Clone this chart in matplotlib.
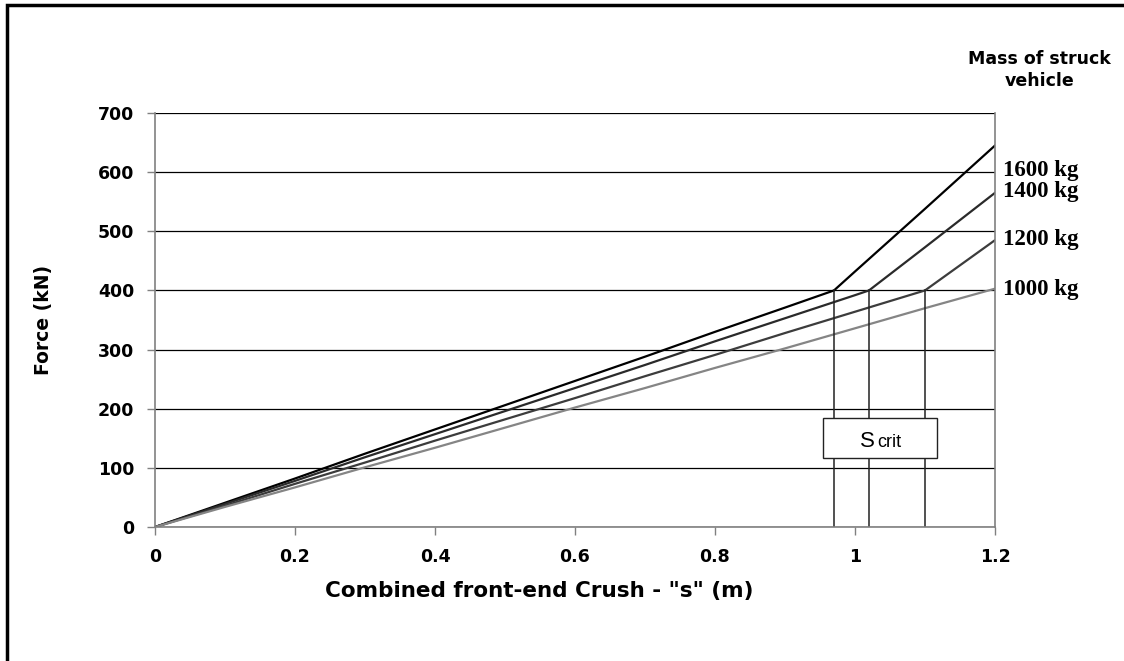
import matplotlib.pyplot as plt
from matplotlib.patches import Rectangle

# crush (m) and force (kN) for each struck vehicle mass
s_1600 = [0, 0.1, 0.2, 0.3, 0.4, 0.5, 0.6, 0.7, 0.8, 0.9, 0.97, 1.0, 1.1, 1.2]
f_1600 = [0, 41, 82, 124, 165, 206, 247, 288, 330, 371, 400, 432, 538, 645]
s_1400 = [0, 0.1, 0.2, 0.3, 0.4, 0.5, 0.6, 0.7, 0.8, 0.9, 1.0, 1.02, 1.1, 1.2]
f_1400 = [0, 39, 78, 118, 157, 196, 235, 274, 314, 353, 392, 400, 473, 565]
s_1200 = [0, 0.1, 0.2, 0.3, 0.4, 0.5, 0.6, 0.7, 0.8, 0.9, 1.0, 1.1, 1.2]
f_1200 = [0, 36, 73, 109, 146, 182, 218, 255, 291, 328, 364, 400, 485]
s_1000 = [0, 0.1, 0.2, 0.3, 0.4, 0.5, 0.6, 0.7, 0.8, 0.9, 1.0, 1.1, 1.2]
f_1000 = [0, 34, 67, 101, 134, 168, 202, 235, 269, 302, 336, 370, 403]

masses = ['1600 kg', '1400 kg', '1200 kg', '1000 kg']
s_crit = [0.97, 1.02, 1.1]
f_crit = 400

plt.rcParams['font.family'] = 'DejaVu Sans'

fig = plt.figure(figsize=(11.24, 6.61), dpi=100)
ax = fig.add_axes([0.1379, 0.2027, 0.7473, 0.6263])

series = [(s_1600, f_1600, '#000000'), (s_1400, f_1400, '#2a2a2a'),
          (s_1200, f_1200, '#3c3c3c'), (s_1000, f_1000, '#858585')]
label_y = [602, 567, 486, 401]  # where the mass labels sit
for (s, f, c), name, ly in zip(series, masses, label_y):
    ax.plot(s, f, color=c, lw=1.6)
    ax.text(1.211, ly, name, fontsize=16.5, fontweight='bold',
            family='Liberation Serif', va='center', ha='left')

for sc in s_crit:
    ax.plot([sc, sc], [0, f_crit], color='#222222', lw=1.1)

ax.add_patch(Rectangle((0.954, 117), 0.163, 67, facecolor='white',
                       edgecolor='#222222', lw=1.0, zorder=5))
ax.text(1.0285, 135, 'S', fontsize=16, ha='right', va='baseline',
        family='Liberation Sans', zorder=6)
ax.text(1.0315, 135, 'crit', fontsize=13, ha='left', va='baseline',
        family='Liberation Sans', zorder=6)

ax.set_xlim(0, 1.2)
ax.set_ylim(0, 700)
ax.set_xticks([0, 0.2, 0.4, 0.6, 0.8, 1, 1.2])
ax.set_xticklabels(['0', '0.2', '0.4', '0.6', '0.8', '1', '1.2'])
ax.set_yticks(range(0, 701, 100))
ax.yaxis.grid(True, color='black', lw=0.9)
ax.set_axisbelow(True)
for sp in ['left', 'bottom', 'right']:
    ax.spines[sp].set_color('#808080')
    ax.spines[sp].set_linewidth(1.2)
ax.spines['top'].set_visible(False)
ax.tick_params(direction='out', length=6, width=1, color='#808080',
               labelsize=12.5)
ax.tick_params(axis='x', pad=9)
ax.tick_params(axis='y', pad=9)
for lab in ax.get_xticklabels() + ax.get_yticklabels():
    lab.set_fontweight('bold')

ax.set_xlabel('Combined front-end Crush - "s" (m)', fontsize=15.5,
              fontweight='bold')
ax.xaxis.set_label_coords(0.458, -0.131)
ax.set_ylabel('Force (kN)', fontsize=13.5, fontweight='bold')
ax.yaxis.set_label_coords(-0.121, 0.5)

fig.text(0.925, 0.911, 'Mass of struck', fontsize=12.5,
         fontweight='bold', ha='center', va='center')
fig.text(0.925, 0.877, 'vehicle', fontsize=12.5,
         fontweight='bold', ha='center', va='center')

fig.patches.append(Rectangle((0.0058, -0.1), 1.2, 1.0917, transform=fig.transFigure,
                             fill=False, edgecolor='black', lw=2.5))

fig.savefig('out.png', dpi=100)
